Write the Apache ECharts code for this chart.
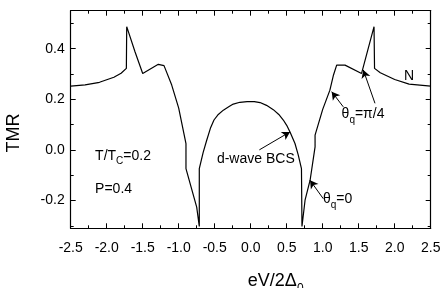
<!DOCTYPE html>
<html>
<head>
<meta charset="utf-8">
<script src="https://cdn.jsdelivr.net/npm/echarts@6/dist/echarts.min.js"></script>
<style>
	html, body { margin: 0; padding: 0; background: #fff; }
	#chart { width: 443px; height: 288px; }
</style>
</head>
<body>
<div id="chart"></div>
<script>
	/*---- data ----*/
	var voltage = [-2.5, -2.3, -2.1, -1.9, -1.8, -1.727, -1.722, -1.607, -1.5, -1.283, -1.204, -1.097, -1.0, -0.899, -0.899, -0.75, -0.714,
		-0.714, -0.66, -0.611, -0.56, -0.51, -0.45, -0.38, -0.3, -0.242, -0.15, -0.05, 0.05, 0.13, 0.22, 0.314, 0.39, 0.453, 0.5, 0.546, 0.615, 0.66, 0.705,
		0.712, 0.755, 0.825, 0.894, 0.894, 1.0, 1.1, 1.15, 1.194, 1.31, 1.54, 1.713, 1.72, 1.8, 2.0, 2.2, 2.5];
	var tmr = [0.252, 0.257, 0.267, 0.287, 0.303, 0.322, 0.487, 0.388, 0.302, 0.338, 0.333, 0.256, 0.165, 0.025, -0.074, -0.226, -0.303,
		-0.074, -0.01, 0.038, 0.085, 0.118, 0.140, 0.157, 0.171, 0.181, 0.188, 0.191, 0.191, 0.187, 0.176, 0.159, 0.14, 0.118, 0.097, 0.071, 0.025, -0.02, -0.074,
		-0.303, -0.199, -0.12, 0.012, 0.058, 0.16, 0.236, 0.296, 0.335, 0.335, 0.302, 0.487, 0.322, 0.305, 0.278, 0.26, 0.252];

	var xRange = [-2.5, 2.5];
	var yRange = [-0.31, 0.55];

	// annotation texts and arrows (data coordinates)
	var noteTexts = ['{n|d-wave BCS}', '{n|θ}{sub|q}{n|=π/4}', '{n|θ}{sub|q}{n|=0}', '{n|N}', '{n|T/T}{sub|C}{n|=0.2}', '{n|P=0.4}'];
	var noteAt = [[0.071, -0.041], [1.56, 0.137], [1.206, -0.2], [2.199, 0.288], [-2.161, -0.027], [-2.161, -0.16]];
	var noteAlign = ['center', 'center', 'center', 'center', 'left', 'left'];
	var arrowFrom = [[0.12, 0.0], [1.286, 0.170], [1.726, 0.184], [1.008, -0.193]];
	var arrowTo = [[0.546, 0.071], [1.125, 0.230], [1.564, 0.316], [0.824, -0.12]];

	/*---- plot frame ----*/
	var W = 443, H = 288;
	var L = 70.7, R = 430.7, T = 10.7, B = 228.3;
	function py(v) {
		return T + (yRange[1] - v) / (yRange[1] - yRange[0]) * (B - T);
	}

	var rich = {
		n: { fontSize: 14, fontFamily: 'Liberation Sans', color: '#000', verticalAlign: 'top', lineHeight: 16 },
		sub: { fontSize: 10, fontFamily: 'Liberation Sans', color: '#000', verticalAlign: 'top', lineHeight: 12, padding: [8, 0, 0, 0] }
	};

	var points = voltage.map(function (v, i) { return [v, tmr[i]]; });

	var notes = noteTexts.map(function (t, i) {
		return {
			coord: noteAt[i],
			label: { show: true, position: 'inside', formatter: t, align: noteAlign[i], verticalAlign: 'middle', rich: rich }
		};
	});
	var arrows = arrowFrom.map(function (a, i) {
		return [{ coord: a }, { coord: arrowTo[i] }];
	});

	var lineCol = '#000';
	var hidden = { show: false };
	var noLine = { show: false, onZero: false };

	function xAx(grid, pos, labels) {
		return {
			type: 'value', gridIndex: grid, position: pos, min: xRange[0], max: xRange[1], interval: 0.5,
			axisLine: { show: grid === 0, onZero: false, lineStyle: { color: lineCol, width: 1.2 } },
			axisTick: { show: grid === 0, inside: true, length: 5, lineStyle: { color: lineCol } },
			minorTick: { show: grid === 0, splitNumber: 2, length: 3, lineStyle: { color: lineCol } },
			axisLabel: { show: labels, margin: 13, fontSize: 14, fontFamily: 'Liberation Sans', color: '#000',
				formatter: function (v) { return v.toFixed(1); } },
			splitLine: hidden
		};
	}

	var option = {
		animation: false,
		backgroundColor: '#fff',
		grid: [
			{ left: L, right: W - R, top: T, bottom: H - B, outerBoundsMode: 'none', containLabel: false },
			{ left: L, right: W - R, top: py(0.5), bottom: H - py(-0.3), outerBoundsMode: 'none', containLabel: false },
			{ left: L, right: W - R, top: py(0.4), bottom: H - py(-0.2), outerBoundsMode: 'none', containLabel: false }
		],
		xAxis: [
			Object.assign(xAx(0, 'bottom', true), {
				name: '{n|eV/2Δ}{sub|0}', nameLocation: 'middle', nameGap: 44,
				nameTextStyle: { padding: [0, 0, 0, 50], rich: {
					n: { fontSize: 18, fontFamily: 'Liberation Sans', color: '#000', verticalAlign: 'top', lineHeight: 20 },
					sub: { fontSize: 12, fontFamily: 'Liberation Sans', color: '#000', verticalAlign: 'top', lineHeight: 14, padding: [10, 0, 0, 0] }
				} }
			}),
			xAx(0, 'top', false),
			xAx(1, 'bottom', false),
			xAx(2, 'bottom', false)
		],
		yAxis: [
			{
				type: 'value', gridIndex: 0, position: 'left', min: yRange[0], max: yRange[1],
				axisLine: { show: true, onZero: false, lineStyle: { color: lineCol, width: 1.2 } },
				axisTick: hidden, axisLabel: hidden, splitLine: hidden,
				name: 'TMR', nameLocation: 'middle', nameGap: 48, nameRotate: 90,
				nameTextStyle: { fontSize: 18, fontFamily: 'Liberation Sans', color: '#000', padding: [0, 27, 0, 0] }
			},
			{
				type: 'value', gridIndex: 0, position: 'right', min: yRange[0], max: yRange[1],
				axisLine: { show: true, onZero: false, lineStyle: { color: lineCol, width: 1.2 } },
				axisTick: hidden, axisLabel: hidden, splitLine: hidden
			},
			// minor ticks every 0.1
			{
				type: 'value', gridIndex: 1, position: 'left', min: -0.3, max: 0.5, interval: 0.1,
				axisLine: noLine, axisLabel: hidden, splitLine: hidden,
				axisTick: { show: true, inside: true, length: 3, lineStyle: { color: lineCol } }
			},
			{
				type: 'value', gridIndex: 1, position: 'right', min: -0.3, max: 0.5, interval: 0.1,
				axisLine: noLine, axisLabel: hidden, splitLine: hidden,
				axisTick: { show: true, inside: true, length: 3, lineStyle: { color: lineCol } }
			},
			// major ticks every 0.2 with labels
			{
				type: 'value', gridIndex: 2, position: 'left', min: -0.2, max: 0.4, interval: 0.2,
				axisLine: noLine, splitLine: hidden,
				axisTick: { show: true, inside: true, length: 5, lineStyle: { color: lineCol } },
				axisLabel: { show: true, margin: 6, fontSize: 14, fontFamily: 'Liberation Sans', color: '#000',
					formatter: function (v) { return v.toFixed(1); } }
			},
			{
				type: 'value', gridIndex: 2, position: 'right', min: -0.2, max: 0.4, interval: 0.2,
				axisLine: noLine, splitLine: hidden, axisLabel: hidden,
				axisTick: { show: true, inside: true, length: 5, lineStyle: { color: lineCol } }
			}
		],
		series: [{
			type: 'line',
			xAxisIndex: 0,
			yAxisIndex: 0,
			data: points,
			symbol: 'none',
			clip: false,
			silent: true,
			lineStyle: { color: lineCol, width: 1.2 },
			markPoint: {
				silent: true,
				symbol: 'circle',
				symbolSize: 1,
				itemStyle: { color: 'rgba(0,0,0,0)' },
				data: notes
			},
			markLine: {
				silent: true,
				symbol: ['none', 'arrow'],
				symbolSize: [7, 8],
				lineStyle: { color: lineCol, width: 1, type: 'solid' },
				label: hidden,
				data: arrows
			}
		}]
	};

	var chart = echarts.init(document.getElementById('chart'));
	chart.setOption(option);
</script>
</body>
</html>
